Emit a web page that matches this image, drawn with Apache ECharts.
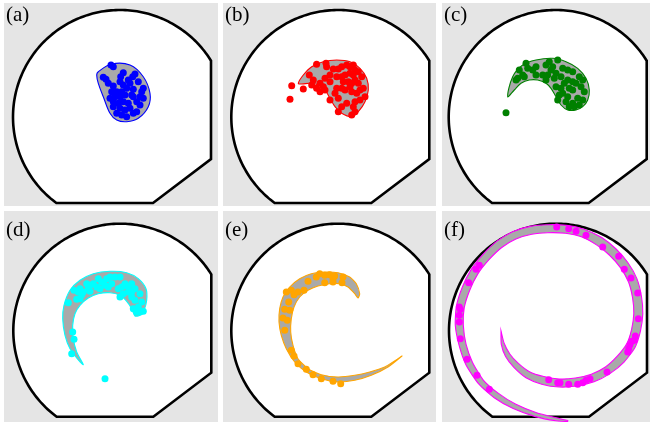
<!DOCTYPE html>
<html><head><meta charset="utf-8">
<script src="https://cdn.jsdelivr.net/npm/echarts@6/dist/echarts.min.js"></script>
<style>html,body{margin:0;padding:0;background:#fff}#c{width:650px;height:425px}</style>
</head><body><div id="c"></div>
<script>
// ---------- data (units: domain radius = 107) ----------
const panelLabels = ['(a)', '(b)', '(c)', '(d)', '(e)', '(f)'];
const seriesColors = ['#0000ff', '#ff0000', '#008000', '#00ffff', '#ffa500', '#ff00ff'];

// domain: circle clipped by a vertical edge, a bottom edge and a chamfer
const domainRadius = 107;
const domainXMax = 91;
const domainYMin = -86;
const domainChamfer = [[33, -86], [91, -42]];

const blobA = [[-21.7,45.3],[-8.3,53],[10,52],[23.3,40.3],[30,23.7],[28.3,10.3],[18.3,-1.3],[6.7,-4.7],[-3.3,-3],[-10,3.7],[-16.7,20.3],[-21.7,33.7],[-23.3,42]];
const pointsA = [[-9,52],[-6.7,50.3],[-16.7,39.7],[-14,37.7],[3.3,44.3],[0.7,40.3],[15,43],[12.7,40.3],[0,35.3],[-11.7,33.7],[-6.7,31],[3.3,32],[6.7,28.7],[10,33.7],[13.3,27.7],[18.3,35.3],[21.7,25.3],[-3.3,25.3],[-8.3,25.3],[0,20.3],[5,22],[11.7,22],[20,20.3],[23.3,18.7],[-6.7,15.3],[-1.7,13.7],[3.3,15.3],[8.3,13.7],[16.7,15.3],[20,12],[-6.7,10.3],[0,8.7],[5,7],[10,8.7],[13.3,3.7],[-3.3,3.7],[1.7,2],[6.7,0.3],[16.7,5.3],[-10,18.7],[-5,20.3],[8.3,37],[23.3,28.7],[13.3,20.3],[1.7,25.3]];

const blobB = [[-40,33.7],[-35,42],[-26.6,50.3],[-15,55.3],[-1.6,57],[11.7,55.3],[21.7,48.7],[28.4,38.7],[30,27],[26.7,15.3],[20,5.3],[13.4,0.3],[3.4,3.7],[-3.3,10.3],[-8.3,18.7],[-13.3,27],[-20,32],[-28.3,33.7],[-36.6,33]];
const pointsB = [[-21.7,52.7],[-12.3,53.7],[-11.7,50.3],[-5,48],[0,48],[3.4,50.3],[8.4,52],[11.7,50.3],[15,52],[16.7,47],[20,45.3],[23.4,40.3],[-29,42],[-25,37],[-26.6,32],[-18.3,33.7],[-15,30.3],[-13.3,38.7],[-8.3,35.3],[-8.3,42],[-1.6,40.3],[3.4,40.3],[6.7,42],[11.7,43.7],[15,42],[10,35.3],[13.4,33.7],[16.7,37],[20,33.7],[25,28.7],[3.4,28.7],[6.7,27],[11.7,30.3],[13.4,25.3],[18.4,23.7],[21.7,27],[-3.3,23.7],[-8.3,17],[0,18.7],[8.4,13.7],[3.4,10.3],[16.7,15.3],[15,10.3],[16.7,5.3],[13.4,2],[0,5.3],[5,35.3],[-1.6,28.7],[-18.3,25.3],[-35,28],[-46.6,31.3],[-48.3,17.7],[-21.7,28.7],[-13.3,27],[21.7,17],[26.7,20.3]];

const blobC = [[-48,20.3],[-43,40.3],[-33,52],[-19.7,57],[-3,58.7],[10.3,55.3],[22,48.7],[30.3,38.7],[33.6,27],[32,17],[27,10.3],[20.3,7],[12,7],[5.3,12],[0.3,20.3],[-4.7,28.7],[-9.7,33.7],[-18,37],[-26.4,37],[-34.7,33.7],[-41.4,27]];
const pointsC = [[-29.7,53.7],[-28,48.7],[-19.7,50.3],[-9.7,52],[-6.4,55.3],[2,57],[-3,50.3],[-4.7,47],[7,48.7],[12,47],[17,45.3],[23.6,40.3],[27,37],[-36.4,47],[-33,42],[-38,38.7],[-31.4,40.3],[-19.7,42],[-13,42],[-9.7,37],[-1.4,38.7],[5.3,40.3],[12,37],[17,35.3],[8.6,33.7],[13.6,28.7],[20.3,33.7],[25.3,30.3],[28.6,25.3],[5.3,28.7],[0.3,30.3],[7,23.7],[12,20.3],[22,18.7],[27,17],[17,13.7],[10.3,15.3],[3.6,22],[2,17],[13.6,10.3],[18.6,10.3],[23.6,12],[17,27],[0.3,43.7],[-8,42],[-23,47],[-39.7,37],[-49.7,4.3]];

const blobD = [[-37,-34],[-40.3,-31.3],[-50.3,-18],[-55.3,-4.6],[-57.6,12],[-56.3,25.4],[-50.3,40.4],[-40.3,50.4],[-27,57],[-10.3,59.4],[6.4,58],[18,52],[25.7,42],[26.4,30.4],[23.7,20.4],[19.7,15.4],[14.7,14.7],[11.4,22],[6.4,29.4],[-0.3,35.4],[-10.3,38],[-22,37],[-32,32.7],[-40.3,25.4],[-45.3,17],[-47.6,5.4],[-47,-8],[-43.6,-21.3]];
const pointsD = [[-52,28],[-46.3,40.4],[-42,38.7],[-38.6,36],[-33.6,47],[-30.3,45.4],[-32,42],[-27,47],[-22,52],[-18.6,48.7],[-13.6,52],[-10.3,53.7],[-5.3,53.7],[-0.3,53.7],[-15.3,45.4],[-12,43.7],[-8.6,47],[-2,42],[1.4,43.7],[4.7,47],[8,43.7],[11.4,47],[14.7,42],[11.4,38.7],[8,38.7],[3,37],[-0.3,33.7],[11.4,33.7],[14.7,30.4],[19.7,37],[21.4,28.7],[18,23.7],[23,19.4],[19.7,18.7],[16.4,18.7],[13,22],[-47.6,-1.3],[-46.3,-8.6],[-48.6,-23],[-15.3,-48],[-40.3,42],[-37,38.7],[-30.3,39.4],[-23.6,43.7],[-20.3,42],[-40.3,32],[-43.6,31.4]];

const blobE = [[21.4,37],[18,47],[11.4,53.7],[-0.3,58],[-13.6,58.7],[-27,57],[-38.6,52],[-48.6,43.7],[-55.3,33.7],[-58.6,22],[-59.3,8.7],[-57,-4.6],[-52,-18],[-43.6,-31.3],[-32,-41.3],[-17,-48],[-0.3,-51.3],[16.4,-49.6],[33,-44.6],[49.7,-36.3],[63.7,-25.3],[59.7,-28],[46.4,-36.3],[31.4,-41.3],[16.4,-44.6],[-0.3,-46.3],[-17,-44],[-30.3,-38],[-40.3,-28],[-45.3,-14.6],[-47.6,-1.3],[-47,12],[-44.3,23.7],[-38.6,33.7],[-30.3,40.4],[-20.3,44.7],[-8.6,47],[1.4,47],[9.7,43.7],[16.4,37],[19.7,32.7]];
const pointsE = [[-52,38.7],[-47,40.4],[-44.3,36],[-40.3,38.7],[-34.3,40.4],[-30.3,49.4],[-22,53.7],[-18.6,57],[-13.6,55.4],[-8.6,56],[-5.3,52],[-3.6,54.7],[4.7,53.7],[-13.6,48],[-5.3,48.7],[3.7,48],[-49.6,28.7],[-53.6,21.4],[-48.6,20.4],[-55.3,12.7],[-51,10.4],[-53.6,0.4],[-47,-19.6],[-44.3,-25.3],[-40.3,-33],[-32,-38.6],[-25.3,-44],[-17,-48],[-5.3,-50.6],[2.4,-53]];

// (f): spiral band described by its centre line and half width
const spiralF = [[-55,-0.3],[-53.3,-13],[-48.3,-24.6],[-40,-34.6],[-28.3,-44],[-13.3,-49.6],[3.3,-52.3],[20,-51.3],[36.7,-47.3],[51.7,-39.6],[65,-28],[75,-14.6],[80,0.4],[82.3,17],[81,33.7],[76.7,50.4],[68.3,65.4],[56.7,78.7],[43.3,89.4],[26.7,97.7],[10,101.4],[-8.3,102],[-25,100.4],[-41.7,95.4],[-56.7,86.4],[-70,73.7],[-81.7,58.7],[-90,42],[-95.7,23.7],[-96.7,5.4],[-93.3,-14.6],[-86.7,-33],[-75,-51.3],[-60,-64.6],[-41.7,-75.6],[-20,-84],[0,-88.6],[11.7,-90.3]];
const spiralFHalfWidth = [0,1.5,2.5,3,3.5,4,4,4,4,4,4.5,4.5,4.5,4.5,4.5,4.5,4.5,4.5,4.5,4,4,4,4,4,4,4,4,4,4,4,3.5,3.5,3,3,2.5,2,1.5,0.5];
const pointsF = [[0.7,103.7],[12.7,102],[20,99.4],[30,95.4],[46.7,83.7],[62.7,74.4],[68.3,61.4],[75,52.7],[81.7,37.7],[82.3,12],[79.3,-5.3],[76,-10.6],[74,-14],[72.7,-18],[71.7,-21.3],[78.3,-9.6],[51,-41.3],[34,-48],[30,-49.6],[26.7,-52],[21.7,-53.6],[12.7,-53.6],[4,-52],[1.7,-52],[-7.3,-49],[-66.7,-58.6],[-79,-44.6],[-89,-28.6],[-95.7,-8],[-96.7,8.7],[-96.7,15.4],[-95.7,21.4],[-96.7,23.7],[-87.3,48],[-80,61.4],[-76.7,65.4]];

// ---------- layout (pixels) ----------
const panelRects = [
  {left: 4,   top: 3,   width: 214, height: 203, cx: 120,   cy: 117},
  {left: 223, top: 3,   width: 213, height: 203, cx: 338.3, cy: 117},
  {left: 442, top: 3,   width: 208, height: 203, cx: 555.7, cy: 117},
  {left: 4,   top: 211, width: 214, height: 211, cx: 120.3, cy: 330.7},
  {left: 223, top: 211, width: 213, height: 211, cx: 338.3, cy: 330.7},
  {left: 442, top: 211, width: 208, height: 211, cx: 556,   cy: 330.7}
];

// ---------- geometry helpers ----------
function domainPolygon() {
  const R = domainRadius;
  const yTop = Math.sqrt(R * R - domainXMax * domainXMax);
  const a0 = Math.atan2(yTop, domainXMax);
  const xBot = -Math.sqrt(R * R - domainYMin * domainYMin);
  const a1 = Math.atan2(domainYMin, xBot) + 2 * Math.PI;
  const pts = [];
  const n = 160;
  for (let i = 0; i <= n; i++) {
    const a = a0 + (a1 - a0) * i / n;
    pts.push([R * Math.cos(a), R * Math.sin(a)]);
  }
  pts.push(domainChamfer[0], domainChamfer[1]);
  return pts;
}
function bandPolygon(center, hw) {
  const left = [], right = [];
  for (let i = 0; i < center.length; i++) {
    const p = center[i];
    const a = center[Math.max(0, i - 1)], b = center[Math.min(center.length - 1, i + 1)];
    const dx = b[0] - a[0], dy = b[1] - a[1];
    const L = Math.hypot(dx, dy) || 1;
    const nx = -dy / L, ny = dx / L;
    left.push([p[0] + nx * hw[i], p[1] + ny * hw[i]]);
    right.push([p[0] - nx * hw[i], p[1] - ny * hw[i]]);
  }
  return left.concat(right.reverse());
}

const blobs = [blobA, blobB, blobC, blobD, blobE, bandPolygon(spiralF, spiralFHalfWidth)];
const points = [pointsA, pointsB, pointsC, pointsD, pointsE, pointsF];
const blobSmooth = [0.35, 0.35, 0.35, 0.25, 0.2, 0.2];
const domain = domainPolygon();

function polyItem(poly, style, smooth) {
  return function (params, api) {
    const pts = poly.map(p => api.coord(p));
    return { type: 'polygon', shape: { points: pts, smooth: smooth }, style: style };
  };
}

const grid = [], xAxis = [], yAxis = [], series = [], title = [];
panelRects.forEach((r, i) => {
  grid.push({ left: r.left, top: r.top, width: r.width, height: r.height, show: true,
    backgroundColor: '#e5e5e5', borderWidth: 0, containLabel: false });
  xAxis.push({ type: 'value', gridIndex: i, min: r.left - r.cx, max: r.left + r.width - r.cx, show: false });
  yAxis.push({ type: 'value', gridIndex: i, min: r.cy - (r.top + r.height), max: r.cy - r.top, show: false });
  series.push({ type: 'custom', xAxisIndex: i, yAxisIndex: i, data: [[0, 0]], clip: false, z: 1, silent: true,
    renderItem: polyItem(domain, { fill: '#ffffff', stroke: '#000000', lineWidth: 2.6, lineJoin: 'miter' }, 0) });
  series.push({ type: 'custom', xAxisIndex: i, yAxisIndex: i, data: [[0, 0]], clip: false, z: 2, silent: true,
    renderItem: polyItem(blobs[i], { fill: '#a9a9a9', stroke: seriesColors[i], lineWidth: 1.1 }, blobSmooth[i]) });
  series.push({ type: 'scatter', xAxisIndex: i, yAxisIndex: i, data: points[i], symbolSize: 7, z: 3, silent: true,
    itemStyle: { color: seriesColors[i], opacity: 1 } });
  title.push({ text: panelLabels[i], left: r.left + 2, top: r.top + (i < 3 ? 2 : 9),
    textStyle: { fontFamily: 'Liberation Serif', fontSize: 21, fontWeight: 'normal', color: '#000' }, padding: 0 });
});

const chart = echarts.init(document.getElementById('c'), null, { renderer: 'canvas' });
chart.setOption({ animation: false, title, grid, xAxis, yAxis, series });
</script>
</body></html>
